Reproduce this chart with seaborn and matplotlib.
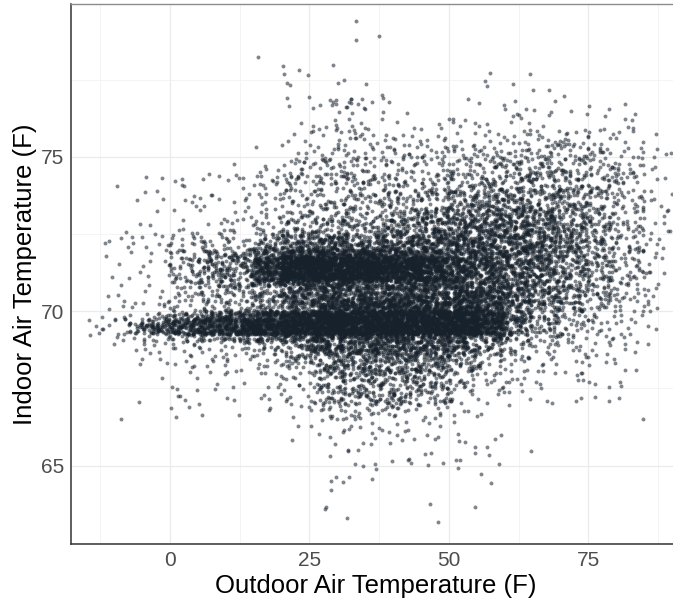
import numpy as np
import pandas as pd
import matplotlib
matplotlib.use("Agg")
import matplotlib.pyplot as plt
from matplotlib.ticker import MultipleLocator
import seaborn as sns

# ------------------------------------------------------------
# Data: number of points per cell
# columns = outdoor temp bins of 5 F (left edges)
# rows = indoor temp bins (0.5 F, or 0.25 F inside the two dense bands)
# ------------------------------------------------------------
x_bin_left = [-15, -10, -5, 0, 5, 10, 15, 20, 25, 30, 35, 40, 45, 50, 55, 60, 65, 70, 75, 80, 85]
x_bin_width = 5

n_79_00 = [0, 0, 0, 0, 0, 0, 0, 0, 0, 1, 0, 0, 0, 0, 0, 0, 0, 0, 0, 0, 0]
n_78_50 = [0, 0, 0, 0, 0, 0, 0, 0, 0, 1, 1, 0, 0, 0, 0, 0, 0, 0, 0, 0, 0]
n_78_00 = [0, 0, 0, 0, 0, 0, 1, 0, 0, 0, 0, 0, 0, 0, 0, 0, 0, 0, 0, 0, 0]
n_77_50 = [0, 0, 0, 0, 0, 0, 0, 4, 1, 0, 0, 0, 0, 0, 1, 1, 0, 0, 0, 0, 0]
n_77_00 = [0, 0, 0, 0, 0, 0, 0, 2, 0, 2, 2, 0, 0, 0, 2, 1, 2, 0, 0, 0, 0]
n_76_50 = [0, 0, 0, 0, 0, 0, 0, 3, 7, 10, 3, 0, 0, 1, 2, 3, 2, 1, 2, 1, 0]
n_76_00 = [0, 0, 0, 0, 0, 0, 0, 1, 2, 4, 2, 2, 2, 4, 2, 6, 3, 2, 1, 3, 0]
n_75_50 = [0, 0, 0, 0, 0, 0, 0, 3, 8, 12, 6, 6, 5, 4, 5, 6, 7, 8, 6, 4, 1]
n_75_00 = [0, 0, 0, 0, 0, 0, 1, 3, 6, 8, 8, 10, 9, 10, 12, 14, 16, 16, 12, 8, 3]
n_74_50 = [0, 0, 0, 0, 0, 1, 4, 10, 14, 16, 14, 12, 14, 16, 20, 22, 22, 20, 15, 10, 3]
n_74_00 = [0, 1, 2, 4, 3, 4, 10, 18, 18, 20, 18, 16, 20, 24, 28, 30, 30, 26, 20, 12, 3]
n_73_50 = [0, 1, 3, 3, 4, 5, 8, 14, 16, 20, 20, 22, 30, 36, 42, 44, 40, 32, 24, 14, 4]
n_73_00 = [0, 0, 1, 2, 2, 4, 8, 16, 20, 22, 24, 30, 45, 52, 60, 60, 52, 40, 26, 15, 4]
n_72_50 = [0, 2, 2, 5, 5, 8, 14, 26, 32, 35, 40, 50, 65, 70, 75, 72, 62, 45, 28, 16, 5]
n_72_25 = [1, 2, 2, 5, 6, 7, 14, 32, 35, 35, 35, 38, 42, 45, 45, 42, 35, 25, 15, 8, 2]
n_72_00 = [1, 2, 3, 5, 8, 8, 25, 40, 40, 40, 40, 42, 45, 48, 48, 45, 38, 26, 16, 8, 3]
n_71_75 = [1, 1, 2, 10, 20, 20, 40, 75, 80, 80, 75, 65, 60, 55, 50, 45, 36, 25, 15, 8, 2]
n_71_50 = [0, 1, 2, 10, 22, 25, 80, 150, 150, 150, 150, 125, 95, 65, 48, 40, 32, 22, 15, 8, 2]
n_71_25 = [0, 1, 2, 10, 22, 25, 80, 150, 150, 150, 150, 125, 95, 65, 48, 40, 32, 22, 15, 8, 2]
n_71_00 = [1, 1, 2, 10, 20, 22, 70, 140, 150, 150, 140, 115, 90, 62, 48, 40, 32, 22, 15, 8, 2]
n_70_75 = [0, 1, 1, 10, 20, 22, 35, 55, 60, 60, 60, 60, 60, 58, 55, 40, 30, 20, 12, 6, 2]
n_70_50 = [0, 1, 2, 6, 10, 12, 20, 45, 45, 50, 50, 55, 58, 58, 55, 40, 30, 20, 12, 6, 2]
n_70_25 = [1, 2, 4, 6, 10, 12, 20, 50, 60, 65, 70, 75, 75, 72, 62, 40, 30, 20, 12, 6, 2]
n_70_00 = [1, 2, 3, 6, 10, 12, 20, 30, 70, 75, 80, 80, 80, 75, 60, 32, 20, 14, 8, 5, 2]
n_69_75 = [1, 2, 12, 25, 40, 55, 80, 110, 150, 150, 150, 150, 150, 140, 95, 35, 15, 8, 5, 3, 1]
n_69_50 = [3, 12, 40, 60, 75, 95, 120, 140, 150, 150, 150, 150, 150, 150, 100, 35, 15, 8, 5, 3, 1]
n_69_25 = [3, 12, 40, 60, 80, 100, 120, 140, 150, 150, 150, 150, 150, 150, 95, 30, 15, 8, 5, 3, 1]
n_69_00 = [1, 3, 8, 12, 20, 25, 35, 45, 60, 60, 60, 60, 60, 50, 32, 15, 10, 6, 4, 2, 0]
n_68_75 = [0, 1, 4, 5, 5, 6, 10, 20, 45, 45, 50, 50, 45, 35, 20, 8, 6, 4, 3, 2, 1]
n_68_50 = [0, 1, 2, 3, 3, 4, 8, 14, 35, 38, 42, 42, 38, 26, 14, 7, 5, 3, 2, 1, 0]
n_68_00 = [0, 1, 3, 5, 5, 6, 10, 18, 42, 52, 56, 56, 48, 30, 15, 9, 6, 4, 4, 2, 0]
n_67_50 = [0, 0, 1, 2, 2, 2, 4, 8, 24, 34, 38, 38, 32, 18, 9, 6, 4, 4, 3, 2, 0]
n_67_00 = [0, 1, 0, 5, 2, 2, 4, 6, 22, 34, 36, 34, 25, 10, 5, 3, 2, 2, 2, 1, 0]
n_66_50 = [0, 1, 0, 3, 1, 1, 2, 4, 10, 14, 14, 10, 6, 3, 2, 1, 0, 0, 0, 1, 0]
n_66_00 = [0, 0, 0, 0, 0, 0, 0, 1, 3, 5, 5, 4, 3, 2, 1, 0, 0, 0, 0, 0, 0]
n_65_50 = [0, 0, 0, 0, 0, 0, 0, 1, 2, 3, 3, 3, 3, 3, 2, 0, 0, 0, 0, 0, 0]
n_65_00 = [0, 0, 0, 0, 0, 0, 0, 0, 1, 2, 2, 3, 4, 3, 2, 1, 0, 0, 0, 0, 0]
n_64_50 = [0, 0, 0, 0, 0, 0, 0, 0, 2, 2, 2, 0, 0, 1, 1, 0, 0, 0, 0, 0, 0]
n_64_00 = [0, 0, 0, 0, 0, 0, 0, 0, 1, 1, 0, 0, 0, 0, 1, 0, 0, 0, 0, 0, 0]
n_63_50 = [0, 0, 0, 0, 0, 0, 0, 0, 2, 0, 0, 0, 1, 1, 0, 0, 0, 0, 0, 0, 0]
n_63_00 = [0, 0, 0, 0, 0, 0, 0, 0, 0, 1, 0, 0, 1, 0, 0, 0, 0, 0, 0, 0, 0]

# (bottom of row, row height, counts)
rows = [
    (79.0, 0.5, n_79_00), (78.5, 0.5, n_78_50), (78.0, 0.5, n_78_00),
    (77.5, 0.5, n_77_50), (77.0, 0.5, n_77_00), (76.5, 0.5, n_76_50),
    (76.0, 0.5, n_76_00), (75.5, 0.5, n_75_50), (75.0, 0.5, n_75_00),
    (74.5, 0.5, n_74_50), (74.0, 0.5, n_74_00), (73.5, 0.5, n_73_50),
    (73.0, 0.5, n_73_00), (72.5, 0.5, n_72_50),
    (72.25, 0.25, n_72_25), (72.0, 0.25, n_72_00), (71.75, 0.25, n_71_75),
    (71.5, 0.25, n_71_50), (71.25, 0.25, n_71_25), (71.0, 0.25, n_71_00),
    (70.75, 0.25, n_70_75), (70.5, 0.25, n_70_50), (70.25, 0.25, n_70_25),
    (70.0, 0.25, n_70_00), (69.75, 0.25, n_69_75), (69.5, 0.25, n_69_50),
    (69.25, 0.25, n_69_25), (69.0, 0.25, n_69_00), (68.75, 0.25, n_68_75),
    (68.5, 0.25, n_68_50),
    (68.0, 0.5, n_68_00), (67.5, 0.5, n_67_50), (67.0, 0.5, n_67_00),
    (66.5, 0.5, n_66_50), (66.0, 0.5, n_66_00), (65.5, 0.5, n_65_50),
    (65.0, 0.5, n_65_00), (64.5, 0.5, n_64_50), (64.0, 0.5, n_64_00),
    (63.5, 0.5, n_63_50), (63.0, 0.5, n_63_00),
]

# place the counted points inside each cell with a deterministic,
# evenly spread (quadratic Weyl) sequence so the cells do not look like a lattice
a1, b1 = 0.7548776662466927, 0.4142135623730950
a2, b2 = 0.5698402909980532, 0.7320508075688772
xs, ys = [], []
k = 0
for y0, h, counts in rows:
    for x0, n in zip(x_bin_left, counts):
        for _ in range(n):
            k += 1
            u = (0.5 + a1 * k + b1 * k * k) % 1.0
            v = (0.5 + a2 * k + b2 * k * k) % 1.0
            xs.append(x0 + x_bin_width * u)
            ys.append(y0 + h * v)

df = pd.DataFrame({"outdoor": xs, "indoor": ys})

# ------------------------------------------------------------
# Plot
# ------------------------------------------------------------
sns.set_style("white")
plt.rcParams["font.family"] = ["Liberation Sans", "DejaVu Sans"]

fig = plt.figure(figsize=(6.73, 6.04), dpi=100)
ax = fig.add_axes([71 / 673, 60 / 604, 609 / 673, 540 / 604])

sns.scatterplot(data=df, x="outdoor", y="indoor", ax=ax,
                color="#17212b", alpha=0.55, s=8, linewidth=0, zorder=3)

ax.set_xlim(-17.7, 91.4)
ax.set_ylim(62.46, 79.95)
ax.xaxis.set_major_locator(MultipleLocator(25))
ax.xaxis.set_minor_locator(MultipleLocator(12.5))
ax.yaxis.set_major_locator(MultipleLocator(5))
ax.yaxis.set_minor_locator(MultipleLocator(2.5))
ax.grid(which="major", color="#ebebeb", linewidth=0.9, zorder=0)
ax.grid(which="minor", color="#f2f2f2", linewidth=0.6, zorder=0)
ax.set_axisbelow(True)

ax.tick_params(which="major", length=3, width=0.8, color="#333333",
               labelsize=15, labelcolor="#4d4d4d", pad=2)
ax.tick_params(which="minor", length=0)

for side in ["left", "bottom"]:
    ax.spines[side].set_color("#333333")
    ax.spines[side].set_linewidth(1.1)
ax.spines["top"].set_color("#8c8c8c")
ax.spines["top"].set_linewidth(1.0)
ax.spines["right"].set_visible(False)

ax.set_xlabel("Outdoor Air Temperature (F)", fontsize=18.5, color="black", labelpad=3)
ax.set_ylabel("Indoor Air Temperature (F)", fontsize=18.5, color="black", labelpad=3)

fig.savefig("out.png", dpi=100)
